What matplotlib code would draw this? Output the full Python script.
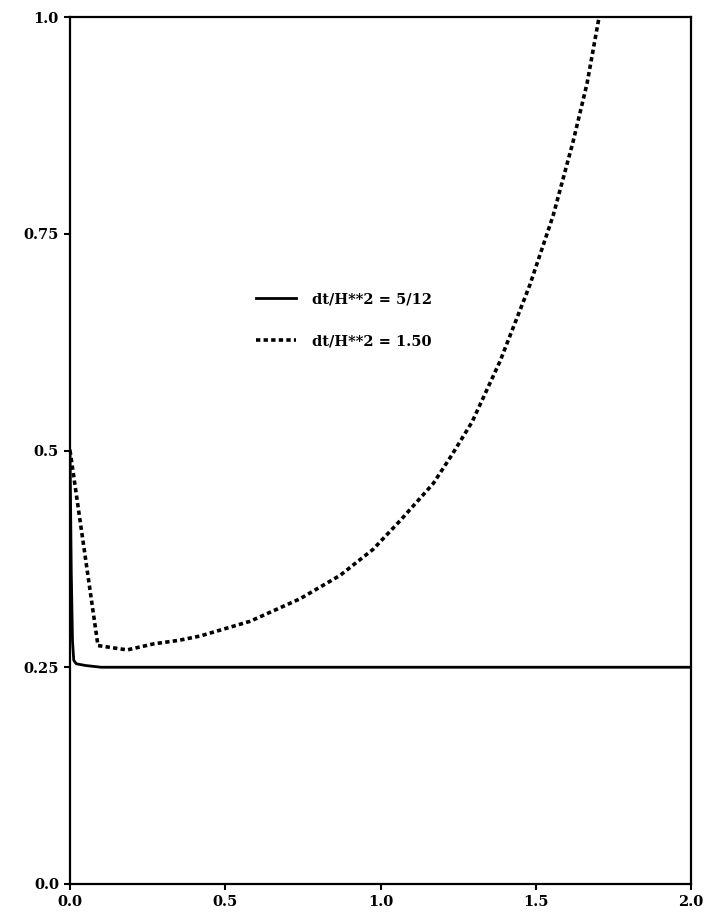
import matplotlib
matplotlib.use("Agg")
import matplotlib.pyplot as plt

# values
x_stable = [0.0, 0.004, 0.008, 0.012, 0.02, 0.05, 0.1, 2.0]
y_stable = [0.5, 0.36, 0.28, 0.258, 0.254, 0.252, 0.25, 0.25]

x_unstable = [0.0, 0.09, 0.184, 0.27, 0.35, 0.419, 0.58, 0.741, 0.870, 0.976,
              1.063, 1.17, 1.23, 1.295, 1.385, 1.481, 1.556, 1.620, 1.665, 1.704]
y_unstable = [0.5, 0.275, 0.27, 0.277, 0.281, 0.286, 0.303, 0.329, 0.356, 0.386,
              0.419, 0.462, 0.495, 0.533, 0.603, 0.691, 0.771, 0.856, 0.923, 1.0]

labels = ["dt/H**2 = 5/12", "dt/H**2 = 1.50"]
xticks = [0.0, 0.5, 1.0, 1.5, 2.0]
yticks = [0.0, 0.25, 0.5, 0.75, 1.0]
yticklabels = ["0.0", "0.25", "0.5", "0.75", "1.0"]

plt.rcParams['font.family'] = ['DejaVu Serif']
plt.rcParams['font.weight'] = 'bold'

fig = plt.figure(figsize=(7.08, 9.15), dpi=100)
ax = fig.add_axes([0.0989, 0.0339, 0.8771, 0.9475])

ax.plot(x_stable, y_stable, color='black', linewidth=2.0, label=labels[0])
ax.plot(x_unstable, y_unstable, color='black', linewidth=2.6,
        linestyle=(0, (1.2, 0.9)), label=labels[1])

ax.set_xlim(0, 2.0)
ax.set_ylim(0, 1.0)
ax.set_xticks(xticks)
ax.set_xticklabels(["0.0", "0.5", "1.0", "1.5", "2.0"])
ax.set_yticks(yticks)
ax.set_yticklabels(yticklabels)
ax.tick_params(direction='out', length=4, width=1.5, labelsize=10.5, pad=4)

for s in ax.spines.values():
    s.set_linewidth(1.6)

ax.legend(loc='center left', bbox_to_anchor=(0.30, 0.65), frameon=False,
          fontsize=10.5, handlelength=2.7, handletextpad=1.1, labelspacing=1.9,
          borderpad=0, borderaxespad=0)

fig.savefig("out.png", dpi=100)
